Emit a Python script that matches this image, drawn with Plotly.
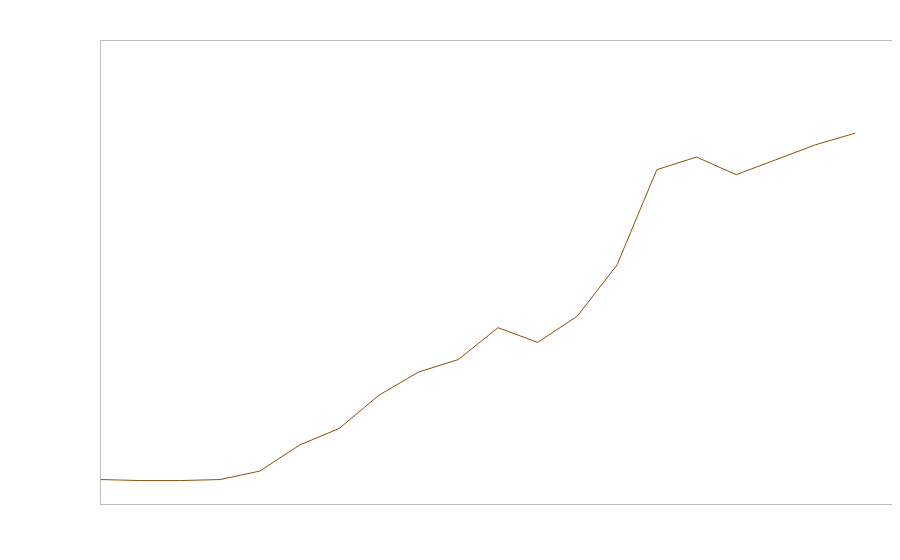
import plotly.graph_objects as go

x_index = list(range(20))
values = [5.28, 5.06, 5.06, 5.28, 7.11, 12.72, 16.31, 23.49, 28.51, 31.19,
          38.08, 34.91, 40.58, 51.66, 72.20, 74.94, 71.12, 74.29, 77.59, 80.11]

fig = go.Figure(go.Scatter(x=x_index, y=values, mode="lines",
                           line=dict(color="#8c510a", width=1), hoverinfo="skip"))
fig.update_layout(
    width=900, height=560,
    margin=dict(l=93, r=15, t=33, b=64),
    paper_bgcolor="white", plot_bgcolor="white",
    showlegend=False,
)
axis_common = dict(showgrid=False, zeroline=False, showticklabels=False, ticks="",
                   showline=True, linecolor="#bdbdbd", linewidth=1, mirror=True)
fig.update_xaxes(range=[0, 19.95], **axis_common)
fig.update_yaxes(range=[0, 100], **axis_common)
fig.write_html("out.html")
